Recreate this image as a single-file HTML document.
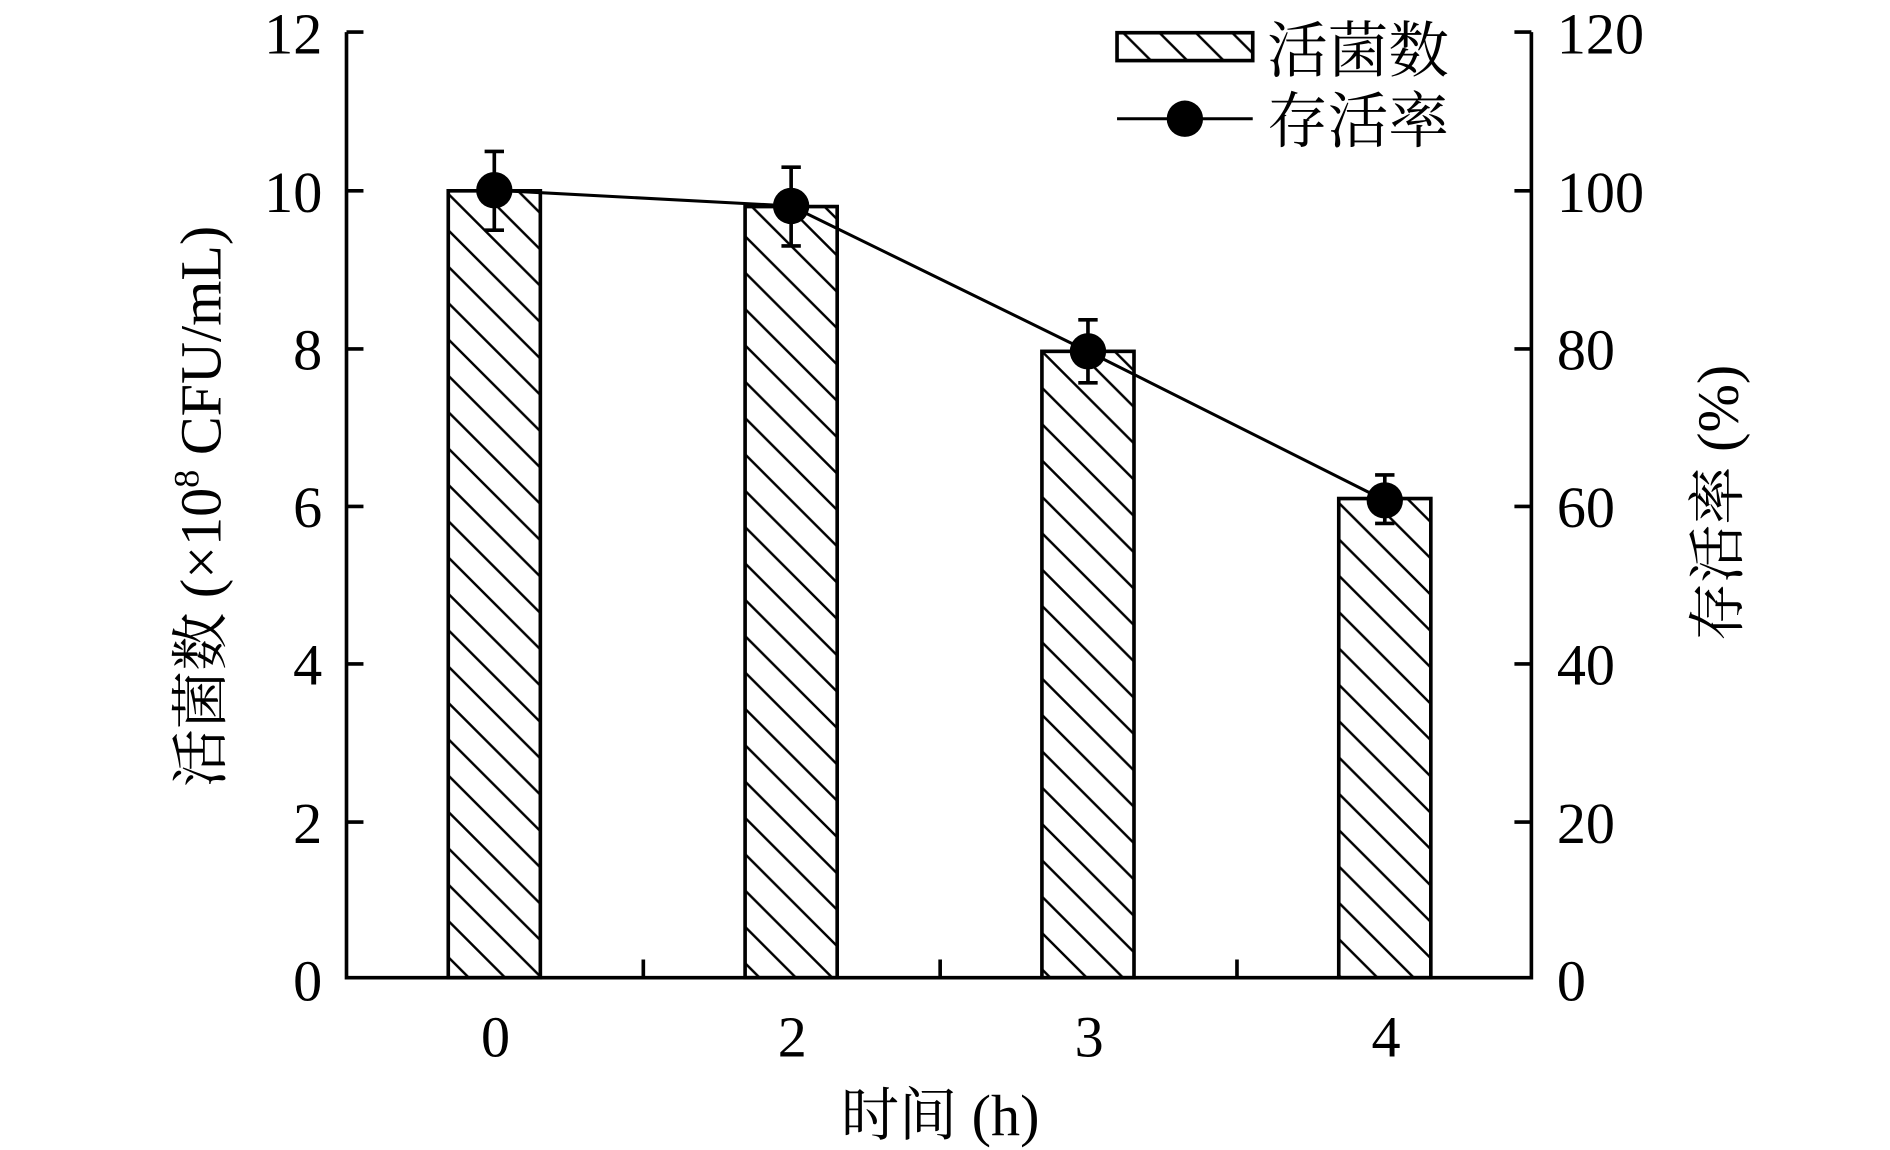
<!DOCTYPE html>
<html><head><meta charset="utf-8"><style>html,body{margin:0;padding:0;background:#fff}svg{display:block}</style></head>
<body>
<svg width="1890" height="1150" viewBox="0 0 1560 949.2" preserveAspectRatio="none" xmlns="http://www.w3.org/2000/svg">
<defs>
<pattern id="h" patternUnits="userSpaceOnUse" width="30" height="30">
<path d="M-5,-5 L35,35 M-35,-5 L5,35 M25,-5 L65,35" stroke="#000" stroke-width="2"/>
</pattern>
</defs>
<g font-family="'Liberation Serif','Noto Serif CJK SC',serif" font-size="48" fill="#000">
<g stroke="#000" stroke-width="3" fill="url(#h)">
<rect x="370" y="157.5" width="76" height="649.5"/>
<rect x="615" y="170.5" width="76" height="636.5"/>
<rect x="860" y="290" width="76" height="517"/>
<rect x="1105" y="411.5" width="76" height="395.5"/>
</g>
<g stroke="#000" stroke-width="3" fill="none">
<path d="M286,26.5 V807 H1264 V26.5"/>
<path d="M286,26.5 h14 M286,157.5 h14 M286,288 h14 M286,418 h14 M286,548 h14 M286,678.5 h14"/>
<path d="M1264,26.5 h-14 M1264,157.5 h-14 M1264,288 h-14 M1264,418 h-14 M1264,548 h-14 M1264,678.5 h-14"/>
<path d="M531,807 v-15 M776,807 v-15 M1021,807 v-15"/>
<path d="M408,125 V190 M400,125 h16 M400,190 h16"/>
<path d="M653,138 V203 M645,138 h16 M645,203 h16"/>
<path d="M898,264 V316 M890,264 h16 M890,316 h16"/>
<path d="M1143,392 V432 M1135,392 h16 M1135,432 h16"/>
<polyline points="408,157 653,170 898,290 1143,413" stroke-width="2.5"/>
<rect x="922" y="27" width="112" height="23" fill="url(#h)"/>
<path d="M922,98 H1034" stroke-width="2.5"/>
</g>
<g fill="#000">
<circle cx="408" cy="157" r="15"/><circle cx="653" cy="170" r="15"/>
<circle cx="898" cy="290" r="15"/><circle cx="1143" cy="413" r="15"/>
<circle cx="978" cy="98" r="15"/>
</g>
<g font-family="'Noto Serif CJK SC',serif">
<text x="1046" y="59" font-size="50">活菌数</text>
<text x="1046" y="117" font-size="50">存活率</text>
</g>
<g text-anchor="end">
<text x="266" y="44">12</text><text x="266" y="175">10</text><text x="266" y="305">8</text>
<text x="266" y="435">6</text><text x="266" y="565">4</text><text x="266" y="696">2</text><text x="266" y="826">0</text>
</g>
<g text-anchor="start">
<text x="1285" y="44">120</text><text x="1285" y="175">100</text><text x="1285" y="305">80</text>
<text x="1285" y="435">60</text><text x="1285" y="565">40</text><text x="1285" y="696">20</text><text x="1285" y="826">0</text>
</g>
<g text-anchor="middle">
<text x="409" y="872">0</text><text x="654" y="872">2</text><text x="899" y="872">3</text><text x="1144" y="872">4</text>
<text x="776" y="937"><tspan font-family="'Noto Serif CJK SC',serif">时间</tspan> (h)</text>
<text transform="translate(182,418) rotate(-90)"><tspan font-family="'Noto Serif CJK SC',serif">活菌数</tspan> (×10<tspan font-size="30" dy="-18">8</tspan><tspan dy="18"> CFU/mL)</tspan></text>
<text transform="translate(1434,415) rotate(-90)"><tspan font-family="'Noto Serif CJK SC',serif">存活率</tspan> (%)</text>
</g>
</g>
</svg>
</body></html>
